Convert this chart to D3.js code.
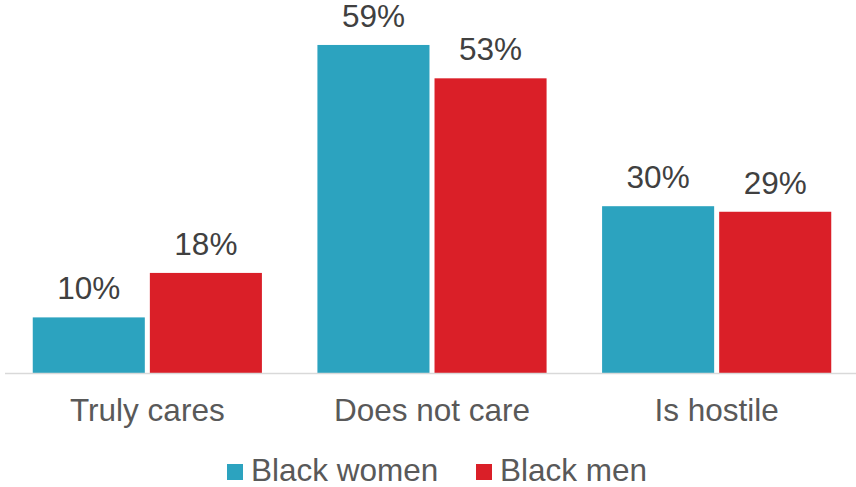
<!DOCTYPE html>
<html>
<head>
<meta charset="utf-8">
<script src="https://cdn.jsdelivr.net/npm/d3@7"></script>
<style>
  html, body { margin: 0; padding: 0; background: #fff; }
  svg { display: block; font-family: "Liberation Sans", Arial, sans-serif; }
</style>
</head>
<body>
<svg id="chart" width="856" height="487"></svg>
<script>
const categories = ["Truly cares", "Does not care", "Is hostile"];
const seriesNames = ["Black women", "Black men"];
const blackWomen = [10, 59, 30];
const blackMen = [18, 53, 29];
const seriesColors = ["#2CA3BF", "#DA1F28"];

const seriesValues = [blackWomen, blackMen];
const rows = categories.map((c, i) => ({
  category: c,
  values: seriesNames.map((s, j) => ({ series: s, value: seriesValues[j][i], color: seriesColors[j] }))
}));

const svg = d3.select("#chart");
const baseY = 373;
const fs = 31.5;

const x0 = d3.scaleBand().domain(categories).range([5, 859]).paddingInner(0.195).paddingOuter(0.0975);
const x1 = d3.scaleBand().domain(seriesNames).range([0, x0.bandwidth()]).paddingInner(0.043);
const y = d3.scaleLinear().domain([0, 60]).range([baseY, baseY - 333.6]);

const groups = svg.append("g").selectAll("g").data(rows).join("g")
  .attr("transform", d => `translate(${x0(d.category)},0)`);

groups.selectAll("rect").data(d => d.values).join("rect")
  .attr("x", d => x1(d.series))
  .attr("y", d => y(d.value))
  .attr("width", x1.bandwidth())
  .attr("height", d => baseY - y(d.value))
  .attr("fill", d => d.color);

groups.selectAll("text.lbl").data(d => d.values).join("text")
  .attr("class", "lbl")
  .attr("x", d => x1(d.series) + x1.bandwidth() / 2)
  .attr("y", d => y(d.value) - 18)
  .attr("text-anchor", "middle")
  .attr("font-size", fs)
  .attr("fill", "#404040")
  .text(d => d.value + "%");

// baseline
svg.append("line")
  .attr("x1", 5).attr("x2", 856)
  .attr("y1", baseY + 0.5).attr("y2", baseY + 0.5)
  .attr("stroke", "#d9d9d9").attr("stroke-width", 1.5);

// category axis
const axis = svg.append("g").attr("transform", `translate(0,${baseY})`)
  .call(d3.axisBottom(x0).tickSize(0).tickPadding(0));
axis.select(".domain").remove();
axis.selectAll("text")
  .attr("y", 48).attr("dy", null)
  .attr("font-size", fs)
  .attr("font-family", "Liberation Sans, Arial, sans-serif")
  .attr("fill", "#595959");

// legend
const legendX = [227, 476];
const legend = svg.append("g").selectAll("g").data(seriesNames).join("g")
  .attr("transform", (d, i) => `translate(${legendX[i]},0)`);
legend.append("rect")
  .attr("x", 0).attr("y", 464).attr("width", 16).attr("height", 16)
  .attr("fill", (d, i) => seriesColors[i]);
legend.append("text")
  .attr("x", 24).attr("y", 481)
  .attr("font-size", fs)
  .attr("fill", "#595959")
  .text(d => d);
</script>
</body>
</html>
